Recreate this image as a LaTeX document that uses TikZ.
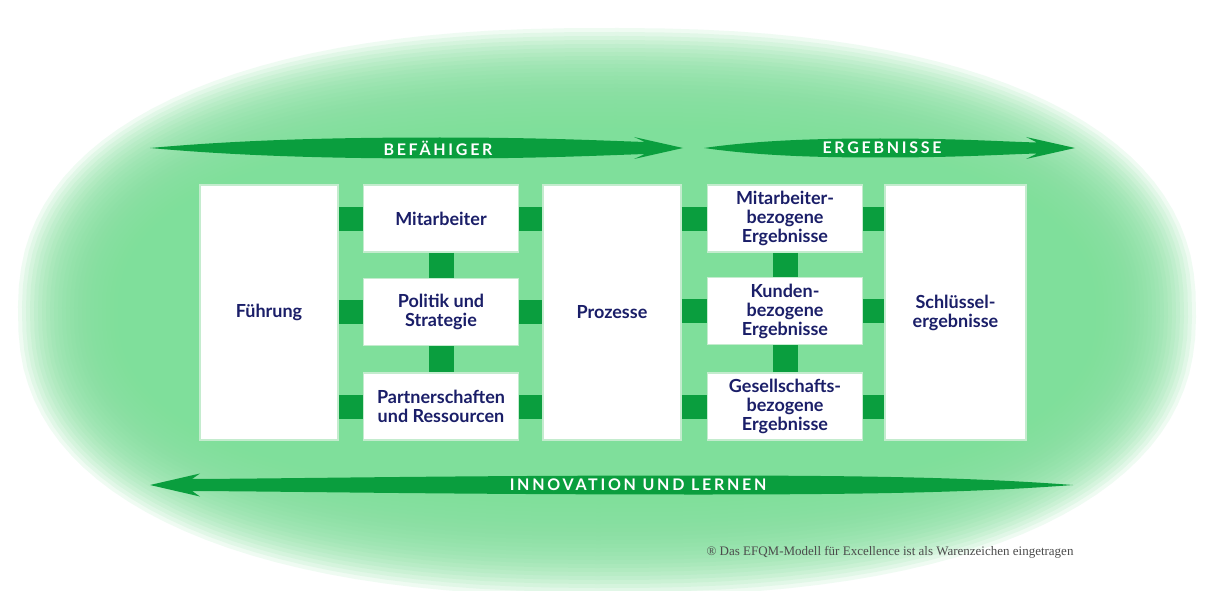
\documentclass[tikz,border=0pt]{standalone}
\usepackage{fontspec}
\setmainfont{Liberation Serif}
\newfontfamily\boxfont{Lato}
\newfontfamily\bannerfont[LetterSpace=17]{Lato}
\usepackage{xcolor}
\usetikzlibrary{calc}

\definecolor{lightgreen}{RGB}{127,223,155}
\definecolor{darkgreen}{RGB}{10,158,62}
\definecolor{navy}{RGB}{26,30,104}
\definecolor{boxrim}{RGB}{196,236,206}

\begin{document}
\begin{tikzpicture}[x=1pt, y=-1pt,
    box/.style={draw=boxrim, line width=1.5pt, fill=white, text=navy, align=center, inner sep=0pt,
        font=\boxfont\bfseries\fontsize{18}{19}\selectfont},
    tallbox/.style={box, minimum width=138pt, minimum height=255pt},
    smallbox/.style={box, minimum width=155pt, minimum height=67pt},
    hlink/.style={darkgreen, line width=24pt},
    vlink/.style={darkgreen, line width=25pt},
    banner/.style={text=white, inner sep=0pt, font=\bannerfont\bfseries\fontsize{16}{16}\selectfont}]
    \useasboundingbox (0,0) rectangle (1210,591);
    \clip (0,0) rectangle (1210,591);
    \fill[white] (0,0) rectangle (1210,591);

    % Green oval with a soft rim
    \foreach \i in {30,29,...,0}
        \fill[lightgreen, fill opacity=0.12]
            plot[domain=0.5:360.5, samples=121]
            ({607+(469+4*\i)*sign(cos(\x))*pow(abs(cos(\x)),0.85)},
             {312+(164+4*\i)*sign(sin(\x))*pow(abs(sin(\x)),0.85)}) -- cycle;
    \fill[lightgreen] plot[domain=0.5:360.5, samples=121]
            ({607+469*sign(cos(\x))*pow(abs(cos(\x)),0.85)},
             {312+164*sign(sin(\x))*pow(abs(sin(\x)),0.85)}) -- cycle;

    % Arrows
    \fill[darkgreen] (150,148) .. controls (250,139) and (350,137.5) .. (440,137.5)
        .. controls (540,137.5) and (600,140.5) .. (645,142) -- (634,137) -- (683,148)
        -- (634,159) -- (645,154) .. controls (600,155.5) and (540,158.5) .. (440,158.5)
        .. controls (350,158.5) and (250,157) .. (150,148) -- cycle;
    \fill[darkgreen] (704,148) .. controls (760,140) and (820,138.5) .. (880,138.5)
        .. controls (960,138.5) and (1000,141.5) .. (1037,142.5) -- (1026,137) -- (1075,148)
        -- (1026,159) -- (1037,153.5) .. controls (1000,154.5) and (960,157.5) .. (880,157.5)
        .. controls (820,157.5) and (760,156) .. (704,148) -- cycle;
    \fill[darkgreen] (1073,485) .. controls (980,478) and (880,475.5) .. (700,475.5)
        .. controls (450,475.5) and (300,478.5) .. (192,479) -- (200,473.5) -- (150,485)
        -- (200,496.5) -- (192,491) .. controls (300,491.5) and (450,494.5) .. (700,494.5)
        .. controls (880,494.5) and (980,492) .. (1073,485) -- cycle;
    \node[banner] (befaehiger) at (438,148) {BEFÄHIGER};
    \node[banner] (ergebnisse) at (882,148) {ERGEBNISSE};
    \node[banner] (innovation) at (638,485) {INNOVATION UND LERNEN};

    % Enablers
    \node[tallbox] (fuehrung) at (269,312.5) {Führung};
    \node[smallbox] (mitarbeiter) at (441,218.5) {Mitarbeiter};
    \node[smallbox] (politik) at (441,312) {Politik und\\Strategie};
    \node[smallbox] (partner) at (441,406.5) {Partnerschaften\\und Ressourcen};
    \node[tallbox] (prozesse) at (612,312.5) {Prozesse};

    % Results
    \node[smallbox] (mabezogen) at (785,218.5) {Mitarbeiter-\\bezogene\\Ergebnisse};
    \node[smallbox] (kunden) at (785,311) {Kunden-\\bezogene\\Ergebnisse};
    \node[smallbox] (gesellschaft) at (785,406.5) {Gesellschafts-\\bezogene\\Ergebnisse};
    \node[tallbox, minimum width=141pt] (schluessel) at (955.5,312.5) {Schlüssel-\\ergebnisse};

    % Links
    \draw[hlink] (fuehrung.east |- mitarbeiter.west) -- (mitarbeiter.west);
    \draw[hlink] (fuehrung.east |- politik.west) -- (politik.west);
    \draw[hlink] (fuehrung.east |- partner.west) -- (partner.west);
    \draw[hlink] (mitarbeiter.east) -- (prozesse.west |- mitarbeiter.east);
    \draw[hlink] (politik.east) -- (prozesse.west |- politik.east);
    \draw[hlink] (partner.east) -- (prozesse.west |- partner.east);
    \draw[hlink] (prozesse.east |- mabezogen.west) -- (mabezogen.west);
    \draw[hlink] (prozesse.east |- kunden.west) -- (kunden.west);
    \draw[hlink] (prozesse.east |- gesellschaft.west) -- (gesellschaft.west);
    \draw[hlink] (mabezogen.east) -- (schluessel.west |- mabezogen.east);
    \draw[hlink] (kunden.east) -- (schluessel.west |- kunden.east);
    \draw[hlink] (gesellschaft.east) -- (schluessel.west |- gesellschaft.east);
    \draw[vlink] (mitarbeiter.south) -- (politik.north);
    \draw[vlink] (politik.south) -- (partner.north);
    \draw[vlink] (mabezogen.south) -- (kunden.north);
    \draw[vlink] (kunden.south) -- (gesellschaft.north);

    % Footnote
    \node[anchor=east, text=black!70, font=\fontsize{13}{13}\selectfont] (note) at (1077,552)
        {® Das EFQM-Modell für Excellence ist als Warenzeichen eingetragen};
\end{tikzpicture}
\end{document}
